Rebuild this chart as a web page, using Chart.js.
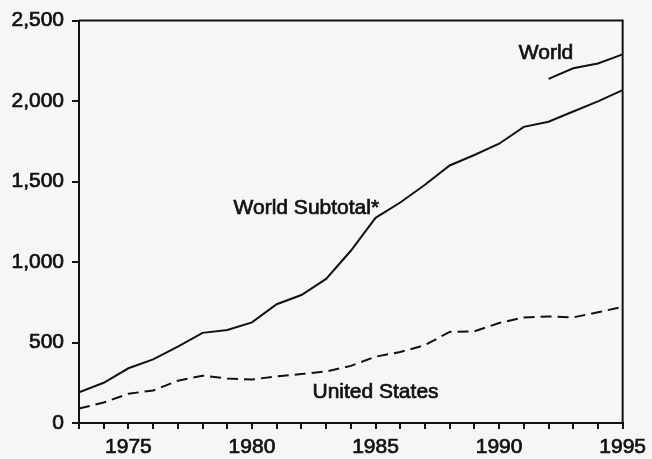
<!DOCTYPE html>
<html>
<head>
<meta charset="utf-8">
<script src="https://cdn.jsdelivr.net/npm/chart.js@4"></script>
<style>
  html, body { margin: 0; padding: 0; background: #f6f6f6; }
  #wrap { width: 652px; height: 459px; }
</style>
</head>
<body>
<div id="wrap"><canvas id="chart"></canvas></div>
<script>
// years on the x axis
const years = [1973, 1974, 1975, 1976, 1977, 1978, 1979, 1980, 1981, 1982, 1983,
  1984, 1985, 1986, 1987, 1988, 1989, 1990, 1991, 1992, 1993, 1994, 1995];

// series values
const worldSubtotal = [190, 250, 340, 395, 475, 560, 578, 625, 738, 795, 895,
  1070, 1275, 1370, 1480, 1600, 1665, 1735, 1840, 1872, 1935, 1998, 2068];
const world = [2138, 2204, 2234, 2290];
const worldYears = [1992, 1993, 1994, 1995];
const unitedStates = [90, 127, 182, 202, 263, 294, 276, 270, 290, 304, 320,
  355, 412, 441, 484, 566, 570, 621, 656, 662, 656, 688, 721];

const yTicks = [0, 500, 1000, 1500, 2000, 2500];
const xLabelYears = [1975, 1980, 1985, 1990, 1995];

// text labels placed in data space
const seriesLabels = [
  { text: "World", x: 1991.9, y: 2300 },
  { text: "World Subtotal*", x: 1982.2, y: 1336 },
  { text: "United States", x: 1985.0, y: 190 },
];

const FONT = "'Liberation Sans', Arial, sans-serif";
const INK = "#111";
// scanned type looks heavier than plain regular weight
const TEXT_STROKE = 0.7;

const toPoints = (xs, ys) => xs.map((x, i) => ({ x: x, y: ys[i] }));

// box around the plot area plus the in-chart labels
const framePlugin = {
  id: "frame",
  afterDatasetsDraw(chart) {
    const { ctx, chartArea: a, scales } = chart;
    ctx.save();
    ctx.strokeStyle = INK;
    ctx.lineWidth = 2;
    ctx.beginPath();
    ctx.moveTo(a.left, a.top);
    ctx.lineTo(a.right, a.top);
    ctx.lineTo(a.right, a.bottom);
    ctx.stroke();

    ctx.fillStyle = INK;
    ctx.font = "21px " + FONT;
    ctx.textAlign = "center";
    ctx.textBaseline = "middle";
    ctx.lineWidth = TEXT_STROKE;
    seriesLabels.forEach((l) => {
      const px = scales.x.getPixelForValue(l.x);
      const py = scales.y.getPixelForValue(l.y);
      ctx.fillText(l.text, px, py);
      ctx.strokeText(l.text, px, py);
    });
    ctx.restore();
  },
};

new Chart(document.getElementById("chart"), {
  type: "line",
  data: {
    datasets: [
      {
        label: "World Subtotal*",
        data: toPoints(years, worldSubtotal),
        borderColor: INK,
        borderWidth: 2,
        pointRadius: 0,
        tension: 0,
      },
      {
        label: "World",
        data: toPoints(worldYears, world),
        borderColor: INK,
        borderWidth: 2,
        pointRadius: 0,
        tension: 0,
      },
      {
        label: "United States",
        data: toPoints(years, unitedStates),
        borderColor: INK,
        borderWidth: 2,
        borderDash: [11, 6],
        pointRadius: 0,
        tension: 0,
      },
    ],
  },
  options: {
    responsive: true,
    maintainAspectRatio: false,
    animation: false,
    layout: { padding: { left: 0, top: 15, right: 25, bottom: 0 } },
    plugins: {
      legend: { display: false },
      tooltip: { enabled: false },
    },
    scales: {
      x: {
        type: "linear",
        min: years[0],
        max: years[years.length - 1],
        afterFit: (s) => { s.height = 36; },
        afterBuildTicks: (s) => { s.ticks = years.map((v) => ({ value: v })); },
        ticks: {
          autoSkip: false,
          maxRotation: 0,
          padding: 6,
          color: INK,
          textStrokeColor: INK,
          textStrokeWidth: TEXT_STROKE,
          font: { family: FONT, size: 21 },
          callback: (v) => (xLabelYears.includes(v) ? String(v) : ""),
        },
        grid: { drawOnChartArea: false, drawTicks: true, tickLength: 6, color: INK, lineWidth: 2 },
        border: { display: true, color: INK, width: 2 },
      },
      y: {
        min: 0,
        max: 2500,
        afterFit: (s) => { s.width = 79; },
        afterBuildTicks: (s) => { s.ticks = yTicks.map((v) => ({ value: v })); },
        ticks: {
          padding: 8,
          color: INK,
          textStrokeColor: INK,
          textStrokeWidth: TEXT_STROKE,
          font: { family: FONT, size: 21 },
          callback: (v) => v.toLocaleString("en-US"),
        },
        grid: { drawOnChartArea: false, drawTicks: true, tickLength: 7, color: INK, lineWidth: 2 },
        border: { display: true, color: INK, width: 2 },
      },
    },
  },
  plugins: [framePlugin],
});
</script>
</body>
</html>
